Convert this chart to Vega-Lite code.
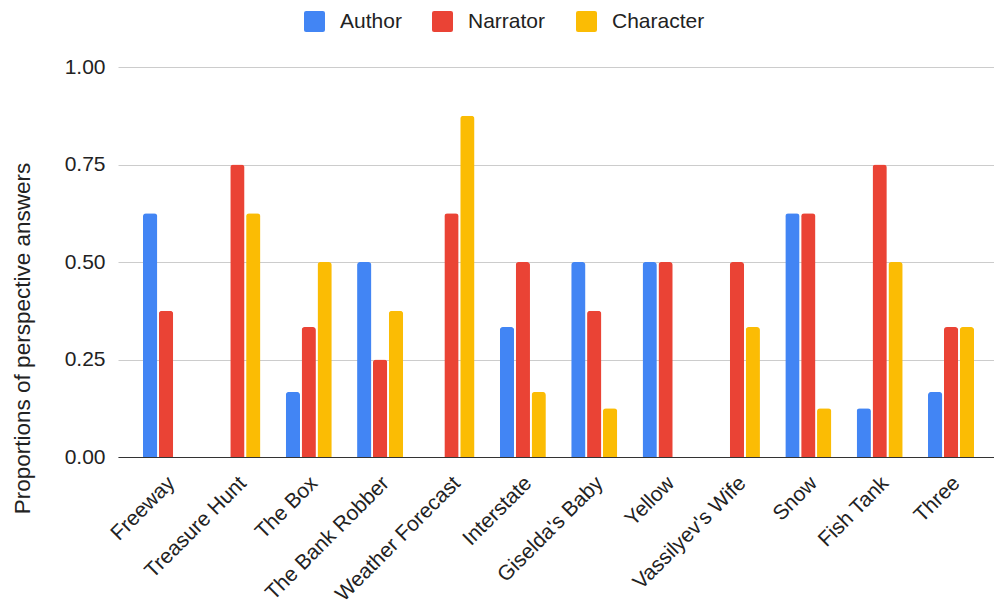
{
  "$schema": "https://vega.github.io/schema/vega-lite/v6.json",
  "autosize": "none",
  "padding": {"left": 118, "top": 67, "right": 0, "bottom": 144},
  "width": 876,
  "height": 390,
  "background": "#ffffff",
  "config": {
    "font": "Liberation Sans",
    "view": {"stroke": null},
    "axis": {"labelFont": "Liberation Sans", "titleFont": "Liberation Sans"},
    "legend": {"labelFont": "Liberation Sans"}
  },
  "data": {
    "values": [
      {"story": "Freeway", "perspective": "Author", "share": 0.625},
      {"story": "Freeway", "perspective": "Narrator", "share": 0.375},
      {"story": "Freeway", "perspective": "Character", "share": 0},
      {"story": "Treasure Hunt", "perspective": "Author", "share": 0},
      {"story": "Treasure Hunt", "perspective": "Narrator", "share": 0.75},
      {"story": "Treasure Hunt", "perspective": "Character", "share": 0.625},
      {"story": "The Box", "perspective": "Author", "share": 0.1667},
      {"story": "The Box", "perspective": "Narrator", "share": 0.3333},
      {"story": "The Box", "perspective": "Character", "share": 0.5},
      {"story": "The Bank Robber", "perspective": "Author", "share": 0.5},
      {"story": "The Bank Robber", "perspective": "Narrator", "share": 0.25},
      {"story": "The Bank Robber", "perspective": "Character", "share": 0.375},
      {"story": "Weather Forecast", "perspective": "Author", "share": 0},
      {"story": "Weather Forecast", "perspective": "Narrator", "share": 0.625},
      {"story": "Weather Forecast", "perspective": "Character", "share": 0.875},
      {"story": "Interstate", "perspective": "Author", "share": 0.3333},
      {"story": "Interstate", "perspective": "Narrator", "share": 0.5},
      {"story": "Interstate", "perspective": "Character", "share": 0.1667},
      {"story": "Giselda's Baby", "perspective": "Author", "share": 0.5},
      {"story": "Giselda's Baby", "perspective": "Narrator", "share": 0.375},
      {"story": "Giselda's Baby", "perspective": "Character", "share": 0.125},
      {"story": "Yellow", "perspective": "Author", "share": 0.5},
      {"story": "Yellow", "perspective": "Narrator", "share": 0.5},
      {"story": "Yellow", "perspective": "Character", "share": 0},
      {"story": "Vassilyev's Wife", "perspective": "Author", "share": 0},
      {"story": "Vassilyev's Wife", "perspective": "Narrator", "share": 0.5},
      {"story": "Vassilyev's Wife", "perspective": "Character", "share": 0.3333},
      {"story": "Snow", "perspective": "Author", "share": 0.625},
      {"story": "Snow", "perspective": "Narrator", "share": 0.625},
      {"story": "Snow", "perspective": "Character", "share": 0.125},
      {"story": "Fish Tank", "perspective": "Author", "share": 0.125},
      {"story": "Fish Tank", "perspective": "Narrator", "share": 0.75},
      {"story": "Fish Tank", "perspective": "Character", "share": 0.5},
      {"story": "Three", "perspective": "Author", "share": 0.1667},
      {"story": "Three", "perspective": "Narrator", "share": 0.3333},
      {"story": "Three", "perspective": "Character", "share": 0.3333}
    ]
  },
  "mark": {"type": "bar", "cornerRadiusTopLeft": 3, "cornerRadiusTopRight": 3},
  "encoding": {
    "x": {
      "field": "story",
      "type": "nominal",
      "sort": null,
      "scale": {"paddingInner": 0.355, "paddingOuter": 0.315, "align": 0.556},
      "axis": {
        "title": null,
        "labelAngle": -45,
        "labelFontSize": 21,
        "labelColor": "#222222",
        "labelPadding": 15,
        "labelOffset": -2,
        "ticks": false,
        "domainColor": "#333333",
        "domainWidth": 1,
        "grid": false
      }
    },
    "xOffset": {
      "field": "perspective",
      "type": "nominal",
      "sort": ["Author", "Narrator", "Character"],
      "scale": {"paddingInner": 0.1, "paddingOuter": 0}
    },
    "y": {
      "field": "share",
      "type": "quantitative",
      "scale": {"domain": [0, 1]},
      "axis": {
        "title": "Proportions of perspective answers",
        "titleFontSize": 22.5,
        "titleFontWeight": "normal",
        "titleColor": "#222222",
        "titleX": -96,
        "titleY": 271,
        "titleAlign": "center",
        "titleBaseline": "middle",
        "titleAngle": -90,
        "values": [0, 0.25, 0.5, 0.75, 1],
        "format": ".2f",
        "labelFontSize": 21,
        "labelColor": "#222222",
        "labelPadding": 13,
        "ticks": false,
        "domain": false,
        "gridColor": "#cccccc",
        "gridWidth": 1
      }
    },
    "color": {
      "field": "perspective",
      "type": "nominal",
      "sort": ["Author", "Narrator", "Character"],
      "scale": {
        "domain": ["Author", "Narrator", "Character"],
        "range": ["#4285F4", "#EA4335", "#FBBC04"]
      },
      "legend": {
        "title": null,
        "orient": "none",
        "direction": "horizontal",
        "legendX": 186,
        "legendY": -56,
        "padding": 0,
        "symbolType": "M-1,-0.8Q-1,-1,-0.8,-1L0.8,-1Q1,-1,1,-0.8L1,0.8Q1,1,0.8,1L-0.8,1Q-1,1,-1,0.8Z",
        "symbolSize": 441,
        "symbolStrokeWidth": 0,
        "symbolOpacity": 1,
        "labelFontSize": 21,
        "labelColor": "#222222",
        "labelOffset": 15,
        "columnPadding": 30
      }
    }
  }
}
